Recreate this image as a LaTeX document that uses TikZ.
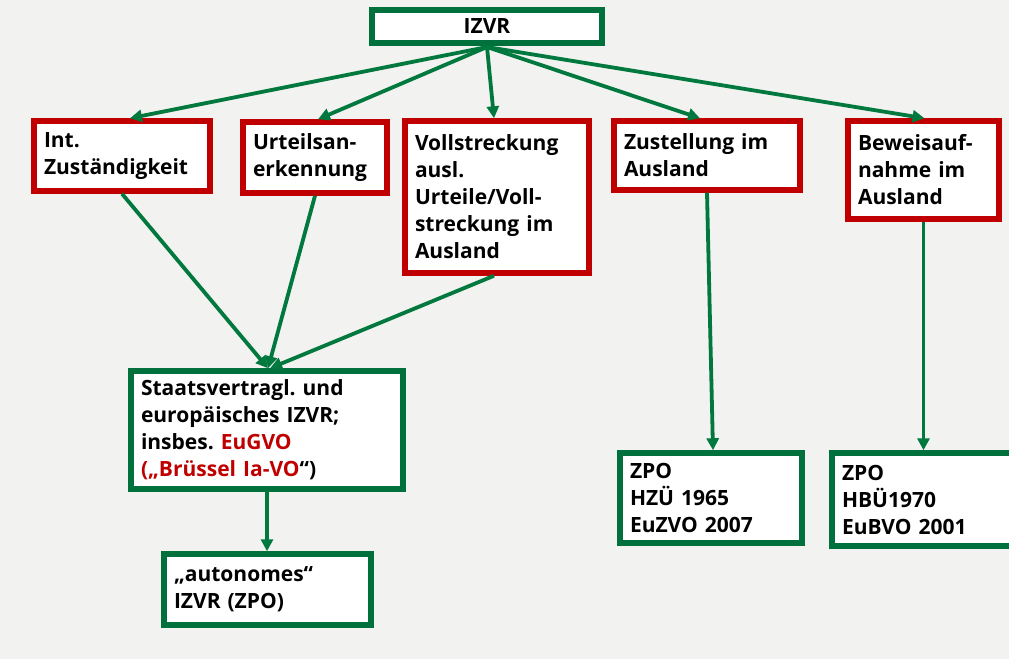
\documentclass[tikz,border=0pt]{standalone}
\usepackage{fontspec}
\setmainfont{Open Sans}
\usetikzlibrary{arrows.meta,calc}
\definecolor{bg}{RGB}{242,242,240}
\definecolor{grn}{RGB}{0,112,60}
\definecolor{agrn}{RGB}{0,120,62}
\definecolor{rd}{RGB}{192,0,0}
\tikzset{
  box/.style={draw, line width=5.5pt, fill=white, inner xsep=10pt, inner ysep=0pt, align=left,
    font=\fontsize{21}{27}\selectfont\bfseries\frenchspacing, text=black},
  gbox/.style={box, draw=grn},
  rbox/.style={box, draw=rd},
  sz/.style n args={2}{minimum width=#1pt, minimum height=#2pt, text width=#1pt-20pt},
  conn/.style={draw=agrn, line width=3.8pt, -{Triangle[length=12pt,width=12pt]}},
}
\begin{document}
\begin{tikzpicture}[x=1pt,y=-1pt]
\fill[bg] (0,0) rectangle (1009,659);
\useasboundingbox (0,0) rectangle (1009,659);
\clip (0,0) rectangle (1009,659);
\node[gbox, minimum width=230pt, minimum height=33pt, align=center] (izvr) at (487,26.5) {IZVR};
\node[rbox, sz={176}{70}] (int) at (122,156) {Int.\\Zuständigkeit};
\node[rbox, sz={144}{71}] (urt) at (315,157.5) {Urteilsan-\\erkennung};
\node[rbox, sz={184}{152}] (vol) at (497,197) {Vollstreckung\\ausl.\\Urteile/Voll-\\streckung im\\Ausland};
\node[rbox, sz={186}{69}] (zus) at (707,155.5) {Zustellung im\\Ausland};
\node[rbox, sz={151}{98}] (bew) at (923.5,170) {Beweisauf-\\nahme im\\Ausland};
\node[gbox, sz={272}{118}] (sta) at (267,430) {Staatsvertragl. und\\europäisches IZVR;\\insbes. \textcolor{rd}{EuGVO}\\\textcolor{rd}{(„Brüssel Ia-VO}“)};
\node[gbox, sz={207}{71}] (aut) at (267.5,589.5) {„autonomes“\\IZVR (ZPO)};
\node[gbox, sz={182}{90}] (hzu) at (711,498) {ZPO\\HZÜ 1965\\EuZVO 2007};
\node[gbox, sz={198}{93}] (hbu) at (931,499.5) {ZPO\\HBÜ1970\\EuBVO 2001};
\coordinate (top) at (487,47);
\draw[conn] (top) -- ([xshift=8pt]int.north);
\draw[conn] (top) -- ([xshift=3pt]urt.north);
\draw[conn] (top) -- ([xshift=-3pt]vol.north);
\draw[conn] (top) -- ([xshift=-7pt]zus.north);
\draw[conn] (top) -- ([xshift=1pt]bew.north);
\draw[conn] (int.south) -- ([xshift=1pt]sta.north);
\draw[conn] (urt.south) -- ([xshift=1pt]sta.north);
\draw[conn] ([xshift=-3pt]vol.south) -- ([xshift=3pt]sta.north);
\draw[conn] (sta.south) -- (sta.south |- aut.north);
\draw[conn] (zus.south) -- ([xshift=2pt]hzu.north);
\draw[conn] (bew.south) -- (bew.south |- hbu.north);
\end{tikzpicture}
\end{document}
